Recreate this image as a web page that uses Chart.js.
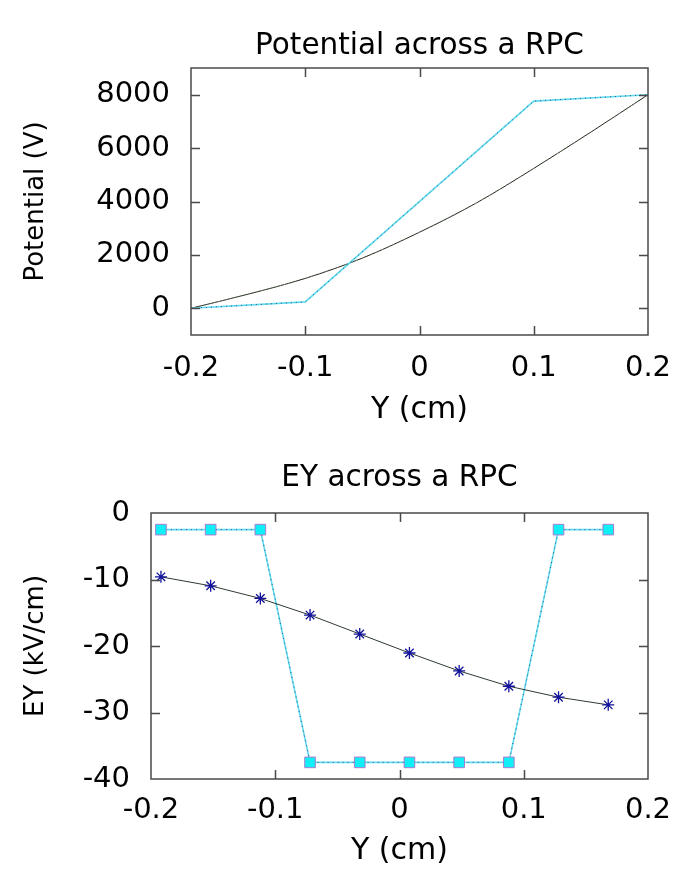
<!DOCTYPE html>
<html>
<head>
<meta charset="utf-8">
<script src="https://cdn.jsdelivr.net/npm/chart.js@4.4.0/dist/chart.umd.min.js"></script>
<style>
  html, body { margin: 0; padding: 0; background: #fff; }
  .panel { position: absolute; left: 0; width: 680px; }
  #potPanel { top: 0; height: 434px; }
  #eyPanel { top: 434px; height: 435px; }
</style>
</head>
<body>
<div class="panel" id="potPanel"><canvas id="potChart" width="680" height="434"></canvas></div>
<div class="panel" id="eyPanel"><canvas id="eyChart" width="680" height="435"></canvas></div>
<script>
// Potential across the RPC (V) versus position Y (cm)
const potY        = [-0.2, -0.15, -0.1, -0.05, 0, 0.05, 0.1, 0.15, 0.2];
const potUniform  = [0, 530, 1120, 1880, 2850, 3950, 5240, 6600, 8000];
const potGapY     = [-0.2, -0.1, 0.1, 0.2];
const potGap      = [0, 240, 7760, 8000];
const potTicks    = [0, 2000, 4000, 6000, 8000];

// Field EY (kV/cm) versus position Y (cm)
const eyY         = [-0.192, -0.152, -0.112, -0.072, -0.032, 0.008, 0.048, 0.088, 0.128, 0.168];
const eyUniform   = [-9.6, -10.95, -12.85, -15.35, -18.2, -21.05, -23.75, -26.05, -27.7, -28.85];
const eyGap       = [-2.5, -2.5, -2.5, -37.5, -37.5, -37.5, -37.5, -37.5, -2.5, -2.5];
const eyTicks     = [0, -10, -20, -30, -40];

const posTicks    = [-0.2, -0.1, 0, 0.1, 0.2];

const FONT = "'DejaVu Sans', sans-serif";

function pts(xs, ys) { return xs.map((x, i) => ({ x: x, y: ys[i] })); }
function fmtPos(v) { return v === 0 ? '0' : String(+v.toFixed(1)); }

// Box border with inward tick marks on all four sides
const framePlugin = {
  id: 'frame',
  afterDatasetsDraw(chart) {
    const { ctx, chartArea: a, scales: { x, y } } = chart;
    const len = 9;
    ctx.save();
    ctx.strokeStyle = '#4a4a4a';
    ctx.lineWidth = 1.5;
    ctx.beginPath();
    x.ticks.forEach(t => {
      const px = Math.round(x.getPixelForValue(t.value)) + 0.5;
      if (px <= a.left + 2 || px >= a.right - 2) return;
      ctx.moveTo(px, a.bottom); ctx.lineTo(px, a.bottom - len);
      ctx.moveTo(px, a.top); ctx.lineTo(px, a.top + len);
    });
    y.ticks.forEach(t => {
      const py = Math.round(y.getPixelForValue(t.value)) + 0.5;
      if (py <= a.top + 2 || py >= a.bottom - 2) return;
      ctx.moveTo(a.left, py); ctx.lineTo(a.left + len, py);
      ctx.moveTo(a.right, py); ctx.lineTo(a.right - len, py);
    });
    ctx.stroke();
    ctx.strokeRect(a.left, a.top, a.right - a.left, a.bottom - a.top);
    ctx.restore();
  }
};

function baseOptions(cfg) {
  return {
    responsive: false,
    animation: false,
    layout: { padding: { left: 0, right: 32, top: 0, bottom: 0 } },
    plugins: {
      legend: { display: false },
      tooltip: { enabled: false },
      title: {
        display: true,
        text: cfg.title,
        fullSize: false,
        color: '#000',
        font: { family: FONT, size: 29.5, weight: 'normal' },
        padding: cfg.titlePad
      }
    },
    scales: {
      x: {
        type: 'linear',
        min: -0.2, max: 0.2,
        afterBuildTicks: s => { s.ticks = posTicks.map(v => ({ value: v })); },
        afterFit: s => { s.height = cfg.xHeight; },
        grid: { display: false, drawTicks: false },
        border: { display: false },
        ticks: {
          color: '#000', padding: cfg.xTickPad, maxRotation: 0, autoSkip: false,
          font: { family: FONT, size: 29, lineHeight: 1.8 },
          callback: v => fmtPos(v)
        },
        title: {
          display: true, text: 'Y (cm)', color: '#000',
          font: { family: FONT, size: 30 },
          padding: { top: 0, bottom: cfg.xTitlePad }
        }
      },
      y: {
        type: 'linear',
        min: cfg.yMin, max: cfg.yMax,
        afterBuildTicks: s => { s.ticks = cfg.yTicks.map(v => ({ value: v })); },
        afterFit: s => { s.width = cfg.yWidth; },
        grid: { display: false, drawTicks: false },
        border: { display: false },
        ticks: {
          color: '#000', padding: 21, autoSkip: false,
          font: { family: FONT, size: 29 },
          callback: v => String(v)
        },
        title: {
          display: true, text: cfg.yTitle, color: '#000',
          font: { family: FONT, size: 26 },
          padding: { top: 21, bottom: 0 }
        }
      }
    }
  };
}

// Upper panel: potential
new Chart(document.getElementById('potChart'), {
  type: 'line',
  data: {
    datasets: [
      { data: pts(potGapY, potGap), borderColor: '#4a4a80', borderWidth: 1, borderDash: [1, 4], pointRadius: 0, fill: false },
      { data: pts(potGapY, potGap), borderColor: '#5cdcf0', borderWidth: 1.6, pointRadius: 0, fill: false },
      { data: pts(potY, potUniform), borderColor: '#6e9a5a', borderWidth: 1, borderDash: [1, 3], pointRadius: 0, fill: false, cubicInterpolationMode: 'monotone' },
      { data: pts(potY, potUniform), borderColor: '#222', borderWidth: 1, pointRadius: 0, fill: false, cubicInterpolationMode: 'monotone' }
    ]
  },
  options: baseOptions({
    title: 'Potential across a RPC',
    titlePad: { top: 28.3, bottom: 4.3 },
    xHeight: 99, xTickPad: 7, xTitlePad: 6,
    yMin: -1000, yMax: 9000, yTicks: potTicks, yWidth: 191,
    yTitle: 'Potential (V)'
  }),
  plugins: [framePlugin]
});

// Lower panel: field
new Chart(document.getElementById('eyChart'), {
  type: 'line',
  data: {
    datasets: [
      { data: pts(eyY, eyGap), showLine: false, pointStyle: 'rect', pointRadius: 7.5, pointBackgroundColor: '#10eef6', pointBorderColor: '#a77cd0', pointBorderWidth: 1 },
      { data: pts(eyY, eyUniform), borderColor: '#2f3a30', borderWidth: 1, pointStyle: 'star', pointRadius: 6, pointBorderColor: '#12129a', pointBackgroundColor: '#12129a', pointBorderWidth: 1.3, fill: false },
      { data: pts(eyY, eyGap), borderColor: '#4a4a80', borderWidth: 1, borderDash: [1, 4], pointRadius: 0, fill: false },
      { data: pts(eyY, eyGap), borderColor: '#5cdcf0', borderWidth: 1.6, pointRadius: 0, fill: false }
    ]
  },
  options: baseOptions({
    title: 'EY across a RPC',
    titlePad: { top: 26.3, bottom: 17.3 },
    xHeight: 90, xTickPad: 5.6, xTitlePad: 0,
    yMin: -40, yMax: 0, yTicks: eyTicks, yWidth: 151,
    yTitle: 'EY (kV/cm)'
  }),
  plugins: [framePlugin]
});
</script>
</body>
</html>
